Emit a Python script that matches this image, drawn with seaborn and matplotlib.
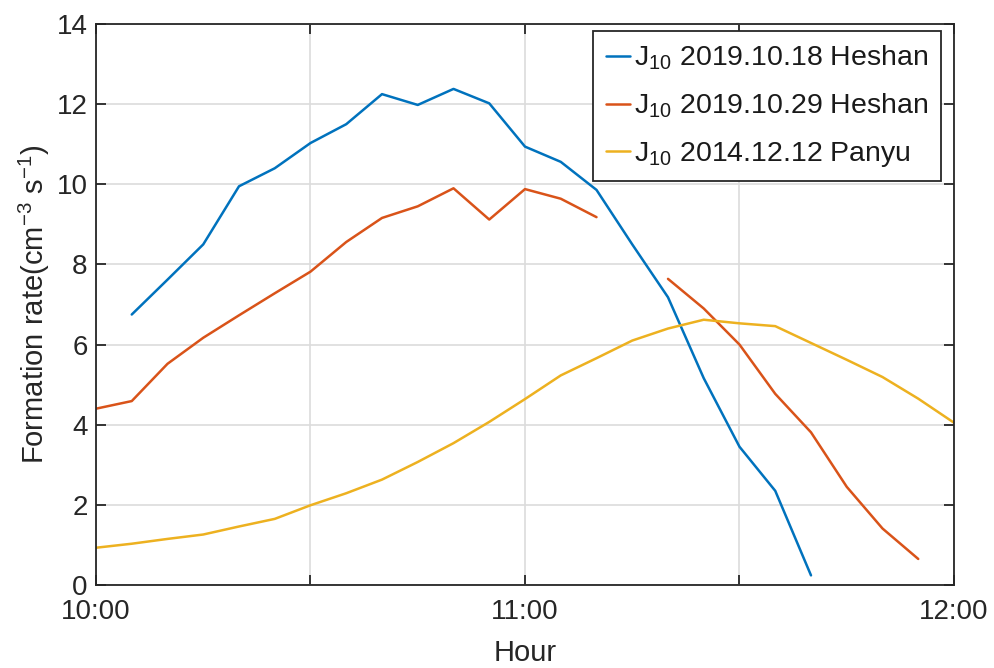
import numpy as np
import pandas as pd
import matplotlib
matplotlib.use("Agg")
import matplotlib.pyplot as plt
import seaborn as sns

# ---- data (minutes after 10:00, 5-min steps) ----
minutes = list(range(0, 125, 5))
tick_positions = [0, 30, 60, 90, 120]
tick_labels = ["10:00", "", "11:00", "", "12:00"]

heshan_1018 = [None, 6.75, 7.62, 8.5, 9.95, 10.4, 11.03, 11.5, 12.25, 11.98, 12.38, 12.02,
               10.94, 10.56, 9.86, 8.5, 7.18, 5.16, 3.45, 2.35, 0.24, None, None, None, None]
heshan_1029 = [4.4, 4.59, 5.52, 6.17, 6.73, 7.28, 7.82, 8.56, 9.16, 9.45, 9.9, 9.12,
               9.88, 9.64, 9.18, None, 7.64, 6.9, 6.0, 4.77, 3.81, 2.45, 1.41, 0.65, None]
panyu_1212 = [0.93, 1.03, 1.15, 1.26, 1.46, 1.65, 1.99, 2.29, 2.63, 3.07, 3.54, 4.07,
              4.64, 5.23, 5.66, 6.1, 6.4, 6.62, 6.53, 6.46, 6.04, 5.62, 5.19, 4.65, 4.05]

series_names = ["J$_{10}$ 2019.10.18 Heshan",
                "J$_{10}$ 2019.10.29 Heshan",
                "J$_{10}$ 2014.12.12 Panyu"]
colors = ["#0072BD", "#D95319", "#EDB120"]

rows = []
for name, vals in zip(series_names, [heshan_1018, heshan_1029, panyu_1212]):
    seg = 0
    prev_missing = False
    for m, v in zip(minutes, vals):
        if v is None:
            prev_missing = True
            continue
        if prev_missing:
            seg += 1
            prev_missing = False
        rows.append({"minute": m, "rate": v, "series": name, "seg": seg})
df = pd.DataFrame(rows)

# ---- style ----
sns.set_theme(style="white")
plt.rcParams["font.family"] = ["Liberation Sans", "DejaVu Sans"]
plt.rcParams["mathtext.fontset"] = "custom"
plt.rcParams["mathtext.rm"] = "Liberation Sans"
plt.rcParams["mathtext.it"] = "Liberation Sans"
plt.rcParams["mathtext.default"] = "regular"

FS = 20
LFS = 21
fig = plt.figure(figsize=(9.95, 6.68), dpi=100)
ax = fig.add_axes([96 / 995, 1 - 585 / 668, (954 - 96) / 995, (585 - 24) / 668])

sns.lineplot(data=df, x="minute", y="rate", hue="series", units="seg",
             estimator=None, palette=colors, hue_order=series_names,
             linewidth=1.8, ax=ax, sort=False)

ax.set_xlim(0, 120)
ax.set_ylim(0, 14)
ax.set_xticks(tick_positions)
ax.set_xticklabels(tick_labels)
ax.set_yticks(np.arange(0, 15, 2))

ax.grid(True, color="#dcdcdc", linewidth=1.2)
ax.set_axisbelow(True)

for sp in ax.spines.values():
    sp.set_visible(True)
    sp.set_color("#262626")
    sp.set_linewidth(1.3)

ax.tick_params(axis="both", direction="in", length=7, width=1.3, color="#262626",
               labelsize=FS, labelcolor="#262626", top=True, right=True,
               bottom=True, left=True)
ax.tick_params(axis="x", pad=10)
ax.tick_params(axis="y", pad=6)

ax.set_xlabel("Hour", fontsize=LFS, color="#262626", labelpad=10)
ax.set_ylabel("Formation rate(cm$^{-3}$ s$^{-1}$)", fontsize=LFS, color="#262626", labelpad=3)

leg = ax.legend(loc="upper right", bbox_to_anchor=(0.985, 0.9875), fontsize=20.5,
                frameon=True, fancybox=False, edgecolor="#262626",
                handlelength=0.85, handletextpad=0.15, labelspacing=0.68,
                borderpad=0.45, borderaxespad=0.0)
leg.get_frame().set_linewidth(1.3)
leg.get_frame().set_alpha(1)
for txt in leg.get_texts():
    txt.set_color("#1a1a1a")

fig.savefig("out.png", dpi=100, facecolor="white")
